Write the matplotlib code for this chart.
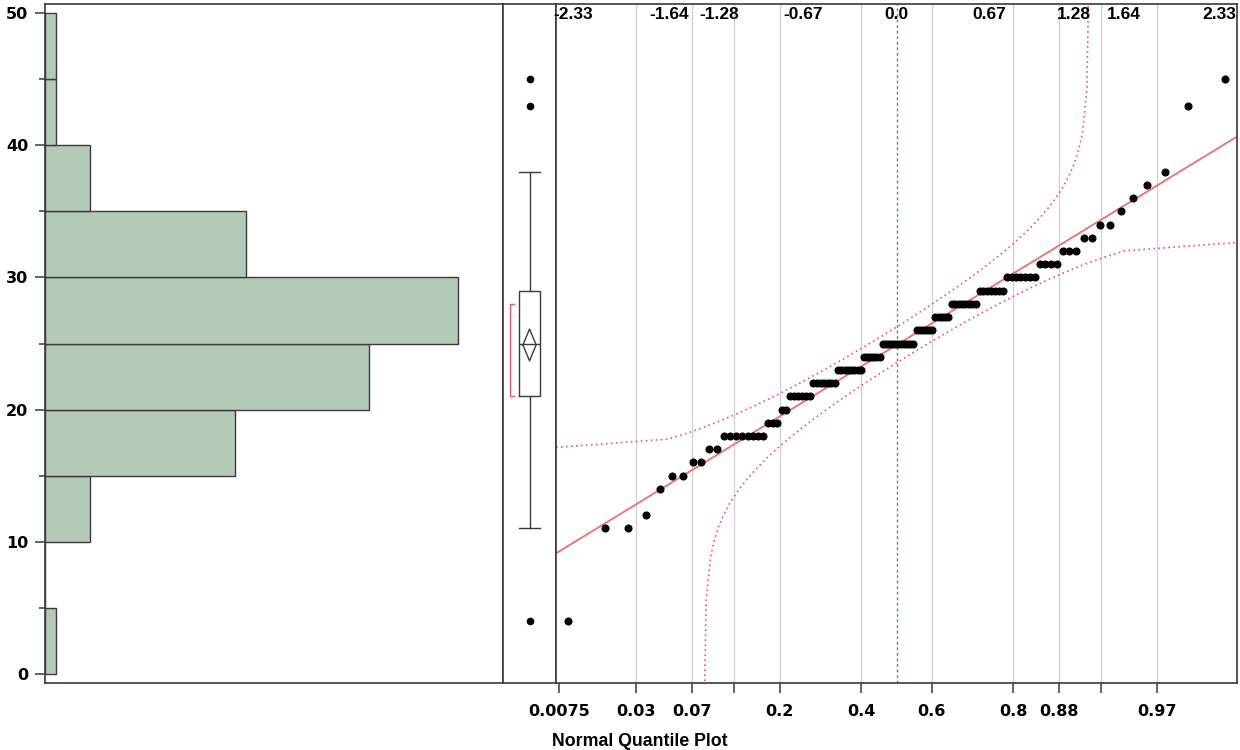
import math

import numpy as np
from matplotlib import pyplot as plt

## Data
values = [4, 11, 12, 14, 15, 16, 17, 18, 19, 20, 21, 22, 23, 24, 25,
          26, 27, 28, 29, 30, 31, 32, 33, 34, 35, 36, 37, 38, 43, 45]
counts = [1, 2, 1, 1, 2, 2, 2, 8, 3, 2, 6, 7, 8, 6, 11,
          6, 5, 8, 7, 7, 4, 3, 2, 2, 1, 1, 1, 1, 1, 1]
bin_edges = [0, 5, 10, 15, 20, 25, 30, 35, 40, 45, 50]
y_ticks = [0, 10, 20, 30, 40, 50]
prob_ticks = [0.0075, 0.03, 0.07, 0.12, 0.2, 0.4, 0.6, 0.8, 0.88, 0.93, 0.97]
prob_labels = ["0.0075", "0.03", "0.07", "", "0.2", "0.4", "0.6", "0.8", "0.88", "", "0.97"]
quant_ticks = [-2.33, -1.64, -1.28, -0.67, 0.0, 0.67, 1.28, 1.64, 2.33]
quant_labels = ["-2.33", "-1.64", "-1.28", "-0.67", "0.0", "0.67", "1.28", "1.64", "2.33"]

BAR_COLOR = "#b4cab9"
EDGE = "#3a3a3a"
FIT_COLOR = "#ee7070"
BAND_COLOR = "#f4507c"
NUM_FONT = ["DejaVu Sans"]
TXT_FONT = ["Liberation Sans", "DejaVu Sans"]


def norm_cdf(z):
    z = np.asarray(z, dtype=float)
    return 0.5 * (1.0 + np.vectorize(math.erf)(z / math.sqrt(2.0)))


def norm_ppf(p):
    p = np.asarray(p, dtype=float)
    lo = np.full(p.shape, -12.0)
    hi = np.full(p.shape, 12.0)
    for _ in range(90):
        mid = (lo + hi) / 2
        below = norm_cdf(mid) < p
        lo = np.where(below, mid, lo)
        hi = np.where(below, hi, mid)
    return (lo + hi) / 2


def style_frame(ax):
    for sp in ax.spines.values():
        sp.set_color(EDGE)
        sp.set_linewidth(1.2)


def main():
    data = np.repeat(values, counts).astype(float)
    n = len(data)
    mean = data.mean()
    sd = data.std(ddof=1)

    fig = plt.figure(figsize=(12.4, 7.5), dpi=100)
    bottom, height = 0.0893, 0.9053
    ax_h = fig.add_axes([0.0363, bottom, 0.3694, height])
    ax_b = fig.add_axes([0.4057, bottom, 0.0427, height], sharey=ax_h)
    ax_q = fig.add_axes([0.4484, bottom, 0.5492, height], sharey=ax_h)
    ylim = (-0.7, 50.7)

    # Histogram
    ax_h.hist(data, bins=bin_edges, orientation="horizontal",
              color=BAR_COLOR, edgecolor=EDGE, linewidth=1.0)
    ax_h.set_xlim(0, 41.0)
    ax_h.set_ylim(*ylim)
    ax_h.set_xticks([])
    ax_h.set_yticks(y_ticks)
    ax_h.set_yticks(bin_edges, minor=True)
    ax_h.tick_params(axis="y", which="major", length=7, width=1.1, color=EDGE,
                     labelsize=11.5, pad=5)
    ax_h.tick_params(axis="y", which="minor", length=4, width=1.1, color=EDGE)
    for lab in ax_h.get_yticklabels():
        lab.set_fontweight("bold")
        lab.set_family(NUM_FONT)
    style_frame(ax_h)

    # Box plot with mean diamond and shortest half bracket
    ax_b.boxplot(data, positions=[0.5], widths=0.4, whis=1.5, capwidths=0.4,
                 boxprops=dict(color=EDGE, linewidth=1.0),
                 whiskerprops=dict(color=EDGE, linewidth=1.0),
                 capprops=dict(color=EDGE, linewidth=1.0),
                 medianprops=dict(color=EDGE, linewidth=1.0),
                 flierprops=dict(marker="o", markerfacecolor="black",
                                 markeredgecolor="black", markersize=4.5))
    ci = 1.98 * sd / math.sqrt(n)
    ax_b.plot([0.375, 0.5, 0.625, 0.5, 0.375], [mean, mean + ci, mean, mean - ci, mean],
              color=EDGE, linewidth=1.0)
    srt = np.sort(data)
    half = n // 2
    widths = srt[half - 1:] - srt[:n - half + 1]
    k = int(np.argmin(widths))
    lo_h, hi_h = srt[k], srt[k + half - 1]
    ax_b.plot([0.215, 0.13, 0.13, 0.215], [lo_h, lo_h, hi_h, hi_h],
              color=BAND_COLOR, linewidth=1.0)
    ax_b.set_xlim(0, 1)
    ax_b.set_xticks([])
    ax_b.tick_params(axis="y", left=False, labelleft=False, which="both")
    style_frame(ax_b)

    # Normal quantile plot
    zlim = 2.455
    grid_z = norm_ppf(prob_ticks)
    for z in grid_z[1:]:
        ax_q.axvline(z, color="#d2d2d2", linewidth=1.0, zorder=0)
    ax_q.axvline(0.0, color="#22b622", linewidth=1.0, linestyle=(0, (2, 2)), zorder=1)

    ranks = np.arange(1, n + 1)
    zq = norm_ppf(ranks / (n + 1))
    zz = np.linspace(-zlim, zlim, 500)
    ax_q.plot(zz, mean + sd * zz, color=FIT_COLOR, linewidth=1.3, zorder=2)

    # Lilliefors confidence bounds, sampled like the original
    d = 0.886 / math.sqrt(n)
    zb = np.concatenate([[-zlim], norm_ppf(np.arange(0.05, 0.9501, 0.005)), [zlim]])
    pz = np.clip(norm_cdf(zb), 0.03, 0.97)
    upper = mean + sd * norm_ppf(np.clip(pz + d, 1e-9, 1 - 1e-9))
    lower = mean + sd * norm_ppf(np.clip(pz - d, 1e-9, 1 - 1e-9))
    ax_q.plot(zb, upper, color=BAND_COLOR, linewidth=1.2, linestyle=(0, (1, 2)), zorder=2)
    ax_q.plot(zb, lower, color=BAND_COLOR, linewidth=1.2, linestyle=(0, (1, 2)), zorder=2)

    ax_q.plot(zq, srt, "o", color="black", markersize=4.8, zorder=3)

    ax_q.set_xlim(-zlim, zlim)
    ax_q.set_xticks(grid_z)
    ax_q.set_xticklabels(prob_labels, fontweight="bold", family=NUM_FONT)
    ax_q.tick_params(axis="x", length=7, width=1.1, color=EDGE, labelsize=11.5, pad=8)
    ax_q.tick_params(axis="y", left=False, labelleft=False, which="both")
    for z, lab in zip(quant_ticks, quant_labels):
        ax_q.text(z, 0.984, lab, transform=ax_q.get_xaxis_transform(),
                  ha="center", va="center", fontsize=12.5, fontweight="bold",
                  family=TXT_FONT)
    style_frame(ax_q)

    fig.text(0.445, 0.0053, "Normal Quantile Plot", ha="left", va="baseline",
             fontsize=12.8, fontweight="bold", family=TXT_FONT)

    plt.savefig("out.png", format="png", dpi=100)


if __name__ == '__main__':
    main()
